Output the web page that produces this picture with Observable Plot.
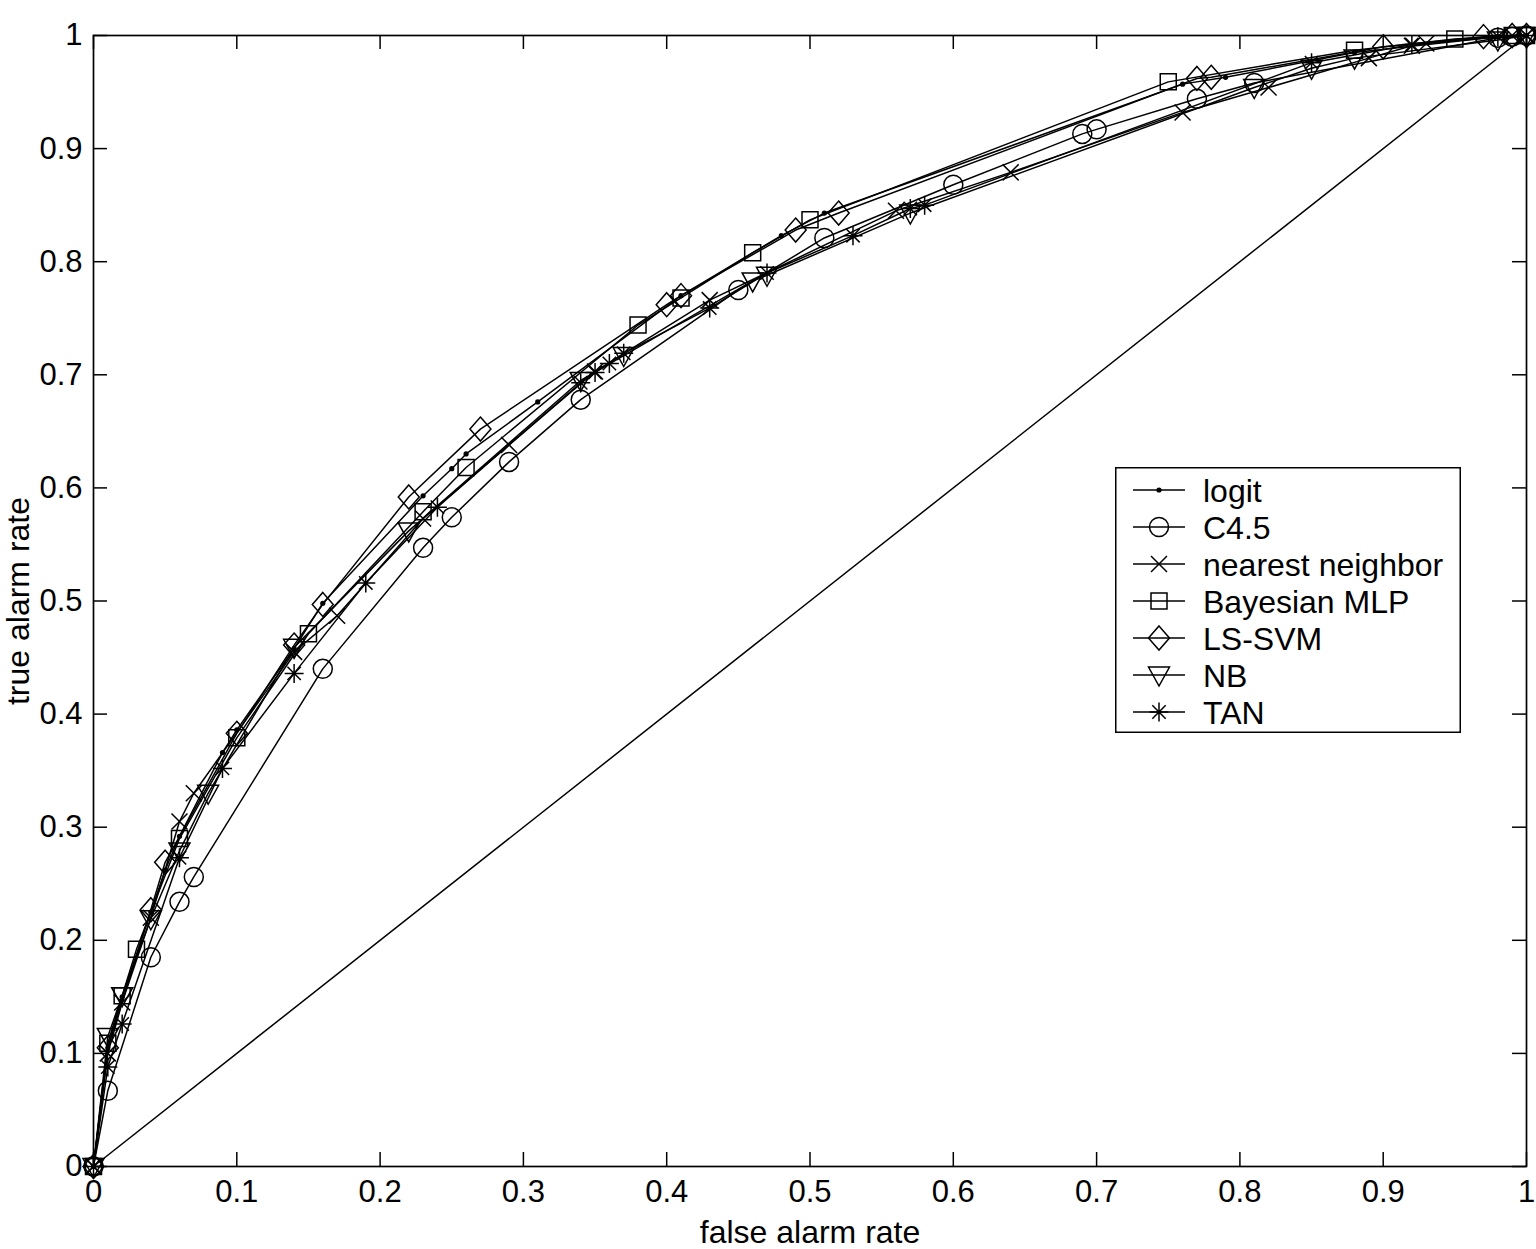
<!DOCTYPE html>
<html>
<head>
<meta charset="utf-8">
<script src="https://cdn.jsdelivr.net/npm/d3@7"></script>
<script src="https://cdn.jsdelivr.net/npm/@observablehq/plot@0.6"></script>
<style>
  html, body { margin: 0; padding: 0; background: #fff; }
  #wrap { position: relative; width: 1536px; height: 1249px; }
  #legend { position: absolute; left: 1115px; top: 467px; }
</style>
</head>
<body>
<div id="wrap"><div id="chart"></div><div id="legend"></div></div>
<script>
// ---- data ----
const seriesNames = ["logit", "C4.5", "nearest neighbor", "Bayesian MLP", "LS-SVM", "NB", "TAN"];

const logitFpr = [0, 0.01, 0.02, 0.04, 0.05, 0.06, 0.09, 0.10, 0.14, 0.16, 0.23, 0.25, 0.26, 0.31, 0.41, 0.48, 0.51, 0.76, 0.79, 0.88, 0.98, 1];
const logitTpr = [0, 0.105, 0.15, 0.225, 0.262, 0.292, 0.366, 0.386, 0.458, 0.498, 0.593, 0.617, 0.63, 0.676, 0.77, 0.823, 0.843, 0.957, 0.963, 0.985, 0.999, 1];

const c45Fpr = [0, 0.01, 0.04, 0.06, 0.07, 0.16, 0.23, 0.25, 0.29, 0.34, 0.45, 0.51, 0.60, 0.69, 0.70, 0.77, 0.81, 0.98, 0.99, 1];
const c45Tpr = [0, 0.067, 0.185, 0.234, 0.256, 0.44, 0.547, 0.574, 0.623, 0.678, 0.775, 0.821, 0.868, 0.913, 0.917, 0.944, 0.958, 0.998, 0.999, 1];

const nnFpr = [0, 0.01, 0.02, 0.04, 0.06, 0.07, 0.14, 0.17, 0.23, 0.29, 0.35, 0.43, 0.56, 0.64, 0.76, 0.82, 0.89, 0.92, 0.93, 0.99, 1];
const nnTpr = [0, 0.10, 0.145, 0.22, 0.305, 0.33, 0.455, 0.487, 0.573, 0.638, 0.703, 0.766, 0.845, 0.879, 0.932, 0.954, 0.98, 0.991, 0.993, 1, 1];

const mlpFpr = [0, 0.01, 0.02, 0.03, 0.06, 0.10, 0.15, 0.23, 0.26, 0.38, 0.41, 0.46, 0.50, 0.75, 0.88, 0.95, 0.99, 1];
const mlpTpr = [0, 0.109, 0.151, 0.192, 0.29, 0.379, 0.471, 0.579, 0.618, 0.744, 0.768, 0.808, 0.837, 0.959, 0.987, 0.997, 1, 1];

const svmFpr = [0, 0.01, 0.04, 0.05, 0.10, 0.14, 0.16, 0.22, 0.27, 0.40, 0.41, 0.49, 0.52, 0.77, 0.78, 0.90, 0.97, 0.99, 1];
const svmTpr = [0, 0.105, 0.227, 0.269, 0.383, 0.461, 0.497, 0.592, 0.652, 0.762, 0.77, 0.828, 0.843, 0.962, 0.963, 0.99, 0.999, 1, 1];

const nbFpr = [0, 0.01, 0.02, 0.04, 0.06, 0.08, 0.14, 0.22, 0.34, 0.37, 0.46, 0.47, 0.57, 0.81, 0.85, 0.88, 0.98, 1];
const nbTpr = [0, 0.115, 0.151, 0.219, 0.279, 0.33, 0.459, 0.562, 0.695, 0.717, 0.783, 0.788, 0.843, 0.954, 0.971, 0.98, 0.996, 1];

const tanFpr = [0, 0.01, 0.02, 0.06, 0.09, 0.14, 0.19, 0.24, 0.34, 0.35, 0.36, 0.37, 0.43, 0.47, 0.53, 0.57, 0.58, 0.85, 0.92, 0.98, 1];
const tanTpr = [0, 0.088, 0.126, 0.273, 0.352, 0.436, 0.516, 0.583, 0.693, 0.702, 0.71, 0.719, 0.759, 0.79, 0.823, 0.847, 0.85, 0.976, 0.992, 0.999, 1];

const diagFpr = [0, 1];
const diagTpr = [0, 1];

const xTicks = [0, 0.1, 0.2, 0.3, 0.4, 0.5, 0.6, 0.7, 0.8, 0.9, 1];
const yTicks = [0, 0.1, 0.2, 0.3, 0.4, 0.5, 0.6, 0.7, 0.8, 0.9, 1];
const xLabel = "false alarm rate";
const yLabel = "true alarm rate";

// ---- marker shapes (MATLAB style) ----
const symDot = { draw(c) { c.moveTo(2.6, 0); c.arc(0, 0, 2.6, 0, 2 * Math.PI); c.closePath(); } };
const symCircle = { draw(c) { c.moveTo(9.5, 0); c.arc(0, 0, 9.5, 0, 2 * Math.PI); c.closePath(); } };
const symTimes = { draw(c) { const s = 8; c.moveTo(-s, -s); c.lineTo(s, s); c.moveTo(-s, s); c.lineTo(s, -s); } };
const symSquare = { draw(c) { const s = 8; c.moveTo(-s, -s); c.lineTo(s, -s); c.lineTo(s, s); c.lineTo(-s, s); c.closePath(); } };
const symDiamond = { draw(c) { c.moveTo(0, -12); c.lineTo(10.5, 0); c.lineTo(0, 12); c.lineTo(-10.5, 0); c.closePath(); } };
const symTriDown = { draw(c) { c.moveTo(-10.5, -8); c.lineTo(10.5, -8); c.lineTo(0, 11); c.closePath(); } };
const symAsterisk = { draw(c) {
  const s = 9.5, d = 6.7;
  c.moveTo(-s, 0); c.lineTo(s, 0); c.moveTo(0, -s); c.lineTo(0, s);
  c.moveTo(-d, -d); c.lineTo(d, d); c.moveTo(-d, d); c.lineTo(d, -d);
} };

const series = [
  { name: seriesNames[0], fpr: logitFpr, tpr: logitTpr, sym: symDot, filled: true },
  { name: seriesNames[1], fpr: c45Fpr, tpr: c45Tpr, sym: symCircle },
  { name: seriesNames[2], fpr: nnFpr, tpr: nnTpr, sym: symTimes },
  { name: seriesNames[3], fpr: mlpFpr, tpr: mlpTpr, sym: symSquare },
  { name: seriesNames[4], fpr: svmFpr, tpr: svmTpr, sym: symDiamond },
  { name: seriesNames[5], fpr: nbFpr, tpr: nbTpr, sym: symTriDown },
  { name: seriesNames[6], fpr: tanFpr, tpr: tanTpr, sym: symAsterisk }
];

const rows = series.flatMap(s => s.fpr.map((x, i) => ({ name: s.name, x, y: s.tpr[i] })));
const diag = diagFpr.map((x, i) => ({ x, y: diagTpr[i] }));

const W = 1536, H = 1249, mL = 93, mR = 10, mT = 35, mB = 83;
const innerW = W - mL - mR, innerH = H - mT - mB;
const tickLen = 14;
const sw = 1.5;
const fmt = d => String(+d.toFixed(1));
const font = "'Liberation Sans', Arial, Helvetica, sans-serif";

const marks = [
  Plot.line(diag, { x: "x", y: "y", stroke: "black", strokeWidth: sw }),
  Plot.line(rows, { x: "x", y: "y", z: "name", stroke: "black", strokeWidth: sw }),
  ...series.map(s => Plot.dot(rows.filter(r => r.name === s.name), {
    x: "x", y: "y", symbol: s.sym, r: 5,
    fill: s.filled ? "black" : "none", stroke: s.filled ? "none" : "black", strokeWidth: sw
  })),
  // inward ticks on all four sides
  Plot.ruleX(xTicks, { x: d => d, insetTop: innerH - tickLen, stroke: "black", strokeWidth: sw }),
  Plot.ruleX(xTicks, { x: d => d, insetBottom: innerH - tickLen, stroke: "black", strokeWidth: sw }),
  Plot.ruleY(yTicks, { y: d => d, insetRight: innerW - tickLen, stroke: "black", strokeWidth: sw }),
  Plot.ruleY(yTicks, { y: d => d, insetLeft: innerW - tickLen, stroke: "black", strokeWidth: sw }),
  Plot.frame({ stroke: "black", strokeWidth: 1.7 }),
  Plot.axisX({ ticks: xTicks, tickFormat: fmt, tickSize: 0, tickPadding: 13, label: null, fontSize: 31 }),
  Plot.axisY({ ticks: yTicks, tickFormat: fmt, tickSize: 0, tickPadding: 11, label: null, fontSize: 31 }),
  Plot.text([xLabel], { text: d => d, frameAnchor: "bottom", textAnchor: "middle", dy: 66, fontSize: 32, lineAnchor: "middle" }),
  Plot.text([yLabel], { text: d => d, frameAnchor: "left", textAnchor: "middle", dx: -75, rotate: -90, fontSize: 32, lineAnchor: "middle" })
];

const chart = Plot.plot({
  width: W, height: H,
  marginLeft: mL, marginRight: mR, marginTop: mT, marginBottom: mB,
  x: { domain: [0, 1], axis: null },
  y: { domain: [0, 1], axis: null },
  style: { fontFamily: font, fontSize: "31px", color: "black", background: "white", overflow: "visible" },
  marks
});
document.getElementById("chart").appendChild(chart);

// ---- legend (HTML overlay with an SVG drawn by d3) ----
const lgW = 346, lgH = 266, rowY0 = 23, rowStep = 37;
const lg = d3.select("#legend").append("svg")
  .attr("width", lgW).attr("height", lgH)
  .style("font-family", font).style("font-size", "32px").style("overflow", "visible");
lg.append("rect").attr("x", 0.75).attr("y", 0.75).attr("width", lgW - 1.5).attr("height", lgH - 1.5)
  .attr("fill", "white").attr("stroke", "black").attr("stroke-width", 1.5);
series.forEach((s, i) => {
  const g = lg.append("g").attr("transform", `translate(0,${rowY0 + i * rowStep})`);
  g.append("line").attr("x1", 18).attr("x2", 70).attr("y1", 0).attr("y2", 0)
    .attr("stroke", "black").attr("stroke-width", sw);
  const p = d3.path(); s.sym.draw(p);
  g.append("path").attr("transform", "translate(44,0)").attr("d", p.toString())
    .attr("fill", s.filled ? "black" : "none").attr("stroke", s.filled ? "none" : "black").attr("stroke-width", sw);
  g.append("text").attr("x", 88).attr("y", 0).attr("dy", "0.36em").text(s.name);
});
</script>
</body>
</html>
